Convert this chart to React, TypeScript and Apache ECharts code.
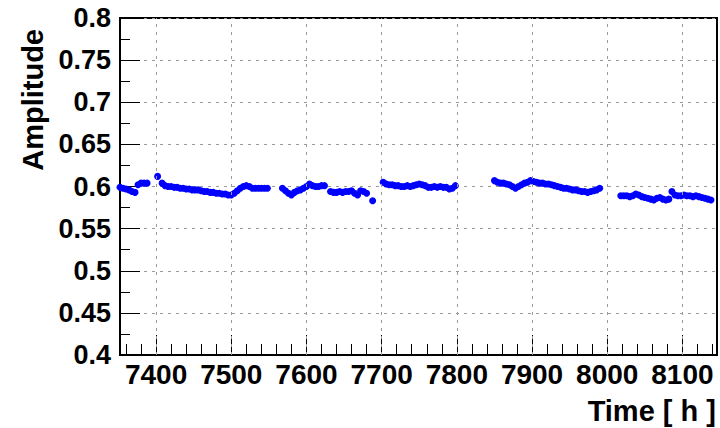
import React, { useEffect, useRef } from "react";
import * as echarts from "echarts";

const hours: number[] = [
  7352, 7356, 7360, 7364, 7368, 7372,
  7376, 7380, 7384, 7388,
  7402, 7408, 7412, 7416, 7420, 7424, 7428, 7432, 7436, 7440, 7444, 7448, 7452, 7456, 7460,
  7464, 7468, 7472, 7476, 7480, 7484, 7488, 7492, 7496, 7500, 7504, 7508, 7512, 7516, 7520,
  7524, 7528, 7532, 7536, 7540, 7544, 7548,
  7568, 7572, 7576, 7580, 7584, 7588, 7592, 7596, 7600, 7604, 7608, 7612, 7616, 7620, 7624,
  7632, 7636, 7640, 7644, 7648, 7652, 7656, 7660, 7664, 7668, 7672, 7676, 7680, 7688,
  7702, 7706, 7710, 7714, 7718, 7722, 7726, 7730, 7734, 7738, 7742, 7746, 7750, 7754, 7758,
  7762, 7766, 7770, 7774, 7778, 7782, 7786, 7790, 7794, 7798,
  7850, 7854, 7858, 7862, 7866, 7870, 7874, 7878, 7882, 7886, 7890, 7894, 7898, 7902, 7906,
  7910, 7914, 7918, 7922, 7926, 7930, 7934, 7938, 7942, 7946, 7950, 7954, 7958, 7962, 7966,
  7970, 7974, 7978, 7982, 7986, 7990,
  8018, 8022, 8026, 8030, 8034, 8038, 8042, 8046, 8050, 8054, 8058, 8062, 8066, 8070, 8074,
  8078, 8082, 8086, 8090, 8094, 8098, 8102, 8106, 8110, 8114, 8118, 8122, 8126, 8130, 8134, 8138,
];

const amplitudes: number[] = [
  0.599, 0.598, 0.597, 0.596, 0.594, 0.593,
  0.602, 0.604, 0.604, 0.604,
  0.612, 0.604, 0.601, 0.6, 0.6, 0.599, 0.599, 0.598, 0.598, 0.597, 0.597, 0.596, 0.596, 0.596, 0.595,
  0.594, 0.594, 0.593, 0.593, 0.592, 0.592, 0.591, 0.591, 0.59, 0.59, 0.592, 0.595, 0.598, 0.6, 0.601,
  0.6, 0.598, 0.598, 0.598, 0.598, 0.598, 0.598,
  0.598, 0.595, 0.592, 0.59, 0.593, 0.595, 0.596, 0.598, 0.6, 0.603, 0.601, 0.6, 0.6, 0.601, 0.601,
  0.594, 0.593, 0.593, 0.594, 0.593, 0.594, 0.594, 0.595, 0.592, 0.59, 0.595, 0.594, 0.592, 0.583,
  0.605, 0.603, 0.602, 0.602, 0.601, 0.601, 0.6, 0.6, 0.601, 0.6, 0.601, 0.602, 0.603, 0.602, 0.601,
  0.599, 0.599, 0.6, 0.599, 0.6, 0.599, 0.599, 0.597, 0.598, 0.601,
  0.607, 0.605, 0.604, 0.604, 0.603, 0.602, 0.6, 0.598, 0.6, 0.602, 0.604, 0.605, 0.607, 0.606, 0.605,
  0.604, 0.604, 0.603, 0.603, 0.602, 0.601, 0.6, 0.599, 0.598, 0.598, 0.597, 0.596, 0.596, 0.595, 0.594,
  0.594, 0.593, 0.594, 0.595, 0.596, 0.598,
  0.589, 0.589, 0.589, 0.588, 0.589, 0.591, 0.59, 0.588, 0.587, 0.586, 0.585, 0.584, 0.586, 0.587, 0.585,
  0.584, 0.585, 0.594, 0.59, 0.589, 0.589, 0.59, 0.589, 0.589, 0.588, 0.589, 0.588, 0.587, 0.586, 0.585, 0.584,
];

const xTickLabels: number[] = [7400, 7500, 7600, 7700, 7800, 7900, 8000, 8100];
const xMinorTicks: number[] = [
  7360, 7380, 7420, 7440, 7460, 7480, 7520, 7540, 7560, 7580, 7620, 7640, 7660, 7680,
  7720, 7740, 7760, 7780, 7820, 7840, 7860, 7880, 7920, 7940, 7960, 7980,
  8020, 8040, 8060, 8080, 8120, 8140,
];
const X_MIN = 7352;
const X_MAX = 8146;
const Y_MIN = 0.4;
const Y_MAX = 0.8;
const Y_STEP = 0.05;

const FONT = "'Liberation Sans', Arial, Helvetica, sans-serif";

export default function App() {
  const ref = useRef<HTMLDivElement>(null);

  useEffect(() => {
    if (!ref.current) return;
    const chart = echarts.init(ref.current, undefined, { renderer: "svg" });
    const points = hours.map((h, i) => [h, amplitudes[i]]);
    const gridStyle = { color: "#9a9a9a", width: 1, type: [3, 5] as number[] };

    chart.setOption({
      animation: false,
      backgroundColor: "#ffffff",
      grid: {
        left: 120,
        right: 3,
        top: 18,
        bottom: 73,
        show: true,
        borderColor: "#000",
        borderWidth: 2,
        backgroundColor: "transparent",
      },
      xAxis: [
        {
          type: "value",
          min: X_MIN,
          max: X_MAX,
          position: "bottom",
          axisLine: { show: true, lineStyle: { color: "#000", width: 2 } },
          axisTick: {
            show: true,
            inside: true,
            length: 20,
            customValues: xTickLabels,
            lineStyle: { color: "#000", width: 1 },
          },
          axisLabel: {
            show: true,
            customValues: xTickLabels,
            fontSize: 28,
            fontWeight: "bold",
            fontFamily: FONT,
            color: "#000",
            margin: 5,
            formatter: (v: number) => String(Math.round(v)),
          },
          splitLine: { show: false },
        },
        {
          type: "value",
          min: X_MIN,
          max: X_MAX,
          position: "bottom",
          axisLine: { show: false },
          axisTick: {
            show: true,
            inside: true,
            length: 11,
            customValues: xMinorTicks,
            lineStyle: { color: "#000", width: 1 },
          },
          axisLabel: { show: false },
          splitLine: { show: false },
        },
      ],
      yAxis: {
        type: "value",
        min: Y_MIN,
        max: Y_MAX,
        interval: Y_STEP,
        axisLine: { show: true, lineStyle: { color: "#000", width: 2 } },
        axisTick: { show: true, inside: true, length: 20, lineStyle: { color: "#000", width: 1 } },
        minorTick: { show: true, splitNumber: 2, length: 10, lineStyle: { color: "#000", width: 1 } },
        axisLabel: {
          fontSize: 27,
          fontWeight: "bold",
          fontFamily: FONT,
          color: "#000",
          margin: 9,
          formatter: (v: number) => String(parseFloat(v.toFixed(2))),
        },
        splitLine: { show: true, lineStyle: gridStyle },
      },
      graphic: [
        {
          type: "text",
          x: 716,
          y: 411,
          style: {
            text: "Time [ h ]",
            fill: "#000",
            font: `bold 29px ${FONT}`,
            align: "right",
            verticalAlign: "middle",
          },
        },
        {
          type: "text",
          x: 33,
          y: 29,
          rotation: Math.PI / 2,
          style: {
            text: "Amplitude",
            fill: "#000",
            font: `bold 29px ${FONT}`,
            align: "right",
            verticalAlign: "middle",
          },
        },
      ],
      series: [
        {
          type: "scatter",
          xAxisIndex: 0,
          yAxisIndex: 0,
          data: points,
          symbol: "circle",
          symbolSize: 7,
          itemStyle: { color: "#0000ff", opacity: 1 },
          silent: true,
          markLine: {
            silent: true,
            symbol: "none",
            label: { show: false },
            lineStyle: gridStyle,
            data: xTickLabels.map((v) => ({ xAxis: v })),
          },
          z: 3,
        },
      ],
    });
    return () => chart.dispose();
  }, []);

  return (
    <div
      ref={ref}
      style={{ position: "fixed", left: 0, top: 0, width: 720, height: 428, background: "#fff" }}
    />
  );
}
